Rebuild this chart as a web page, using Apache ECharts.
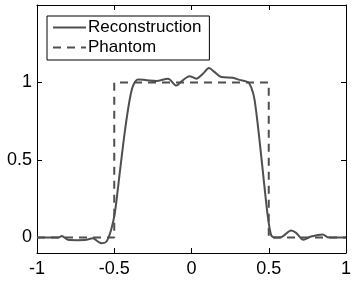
<!DOCTYPE html>
<html><head><meta charset="utf-8">
<script src="https://cdn.jsdelivr.net/npm/echarts@6/dist/echarts.min.js"></script>
<style>html,body{margin:0;padding:0;background:#fff}#c{width:355px;height:285px}</style>
</head><body><div id="c"></div>
<script>
const reconX = [-1,-0.9,-0.86,-0.84,-0.8,-0.74,-0.68,-0.64,-0.6,-0.58,-0.55,-0.52,-0.496,-0.464,-0.432,-0.40,-0.378,-0.346,-0.29,-0.227,-0.152,-0.098,-0.066,-0.012,0.031,0.074,0.113,0.15,0.193,0.268,0.311,0.365,0.386,0.408,0.44,0.472,0.494,0.515,0.537,0.58,0.645,0.677,0.724,0.774,0.85,0.88,0.92,1];
const reconY = [0,0,0,0.01,-0.015,-0.017,-0.015,-0.005,-0.03,-0.037,-0.026,0.05,0.16,0.42,0.68,0.89,0.98,1.02,1.015,1.01,1.025,0.98,1.006,1.04,1.025,1.056,1.093,1.067,1.035,1.03,1.017,1.002,0.97,0.89,0.63,0.33,0.136,0.017,0,0.002,0.045,0.03,-0.015,0.006,0.02,0.002,0,0];
const phantomX = [-1,-0.5,-0.5,0.5,0.5,1];
const phantomY = [0,0,1,1,0,0];
const xTicks = [-1,-0.5,0,0.5,1];
const yTicks = [0,0.5,1];
const seriesNames = ['Reconstruction','Phantom'];

const lineColor = '#4f4f4f';
const font = '"Liberation Sans", Arial, Helvetica, sans-serif';
const zip = (xs, ys) => xs.map((x, i) => [x, ys[i]]);
const chart = echarts.init(document.getElementById('c'), null, {renderer:'canvas'});
const axisCommon = {
  axisLine:{show:true,onZero:false,lineStyle:{color:'#000',width:1}},
  axisTick:{show:true,inside:true,length:5,lineStyle:{color:'#000'}},
  splitLine:{show:false}
};
chart.setOption({
  animation:false,
  grid:{left:37,right:9,top:5,bottom:32,containLabel:false},
  legend:{
    left:47, top:16, orient:'vertical',
    data:seriesNames,
    borderColor:'#000', borderWidth:1,
    padding:[3,8,4,5], itemGap:3,
    itemWidth:33, itemHeight:14,
    itemStyle:{opacity:0},
    textStyle:{fontFamily:font,fontSize:17,color:'#000',padding:[0,0,0,-3]}
  },
  xAxis:[
    Object.assign({type:'value',min:-1,max:1,interval:0.5,position:'bottom',
      axisLabel:{show:true,margin:7,fontFamily:font,fontSize:18,color:'#000',
        formatter:v=>String(v)}}, axisCommon),
    Object.assign({type:'value',min:-1,max:1,interval:0.5,position:'top',
      axisLabel:{show:false}}, axisCommon)
  ],
  yAxis:[
    Object.assign({type:'value',min:-0.1,max:1.5,position:'left',
      axisLabel:{show:true,margin:5,fontFamily:font,fontSize:18,color:'#000',customValues:yTicks,
        formatter:v=>String(v)}}, axisCommon,
      {axisTick:{show:true,inside:true,length:5,lineStyle:{color:'#000'},customValues:yTicks}}),
    Object.assign({type:'value',min:-0.1,max:1.5,position:'right',
      axisLabel:{show:false}}, axisCommon,
      {axisTick:{show:true,inside:true,length:5,lineStyle:{color:'#000'},customValues:yTicks}})
  ],
  series:[
    {name:seriesNames[0],type:'line',data:zip(reconX,reconY),symbol:'none',smooth:0.3,
      lineStyle:{color:lineColor,width:2},itemStyle:{color:lineColor}},
    {name:seriesNames[1],type:'line',data:zip(phantomX,phantomY),symbol:'none',
      lineStyle:{color:lineColor,width:2,type:[8,6]},itemStyle:{color:lineColor}}
  ]
});
</script></body></html>
